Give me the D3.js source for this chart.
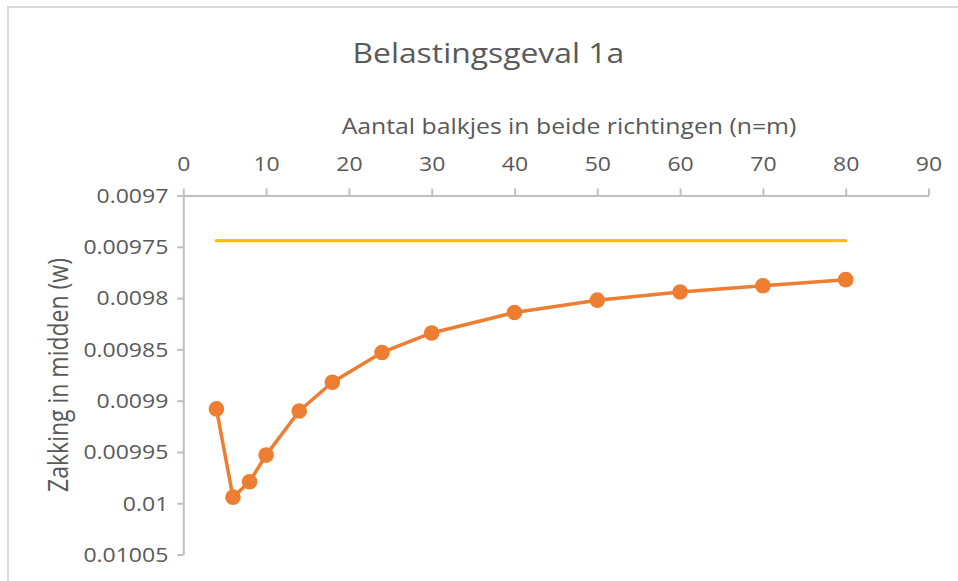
<!DOCTYPE html>
<html>
<head>
<meta charset="utf-8">
<script src="https://cdn.jsdelivr.net/npm/d3@7"></script>
<style>
  html, body { margin: 0; padding: 0; background: #ffffff; }
  svg { display: block; }
  text { font-family: "Open Sans", "Noto Sans", sans-serif; fill: #595959; }
</style>
</head>
<body>
<svg id="chart" width="958" height="581"></svg>
<script>
// Number of beams in both directions (n = m)
const beams = [4, 6, 8, 10, 14, 18, 24, 30, 40, 50, 60, 70, 80];
// Mid-span deflection w from the beam grid model
const deflection = [0.009908, 0.009994, 0.009979, 0.009953, 0.009910, 0.009882,
                    0.009853, 0.009834, 0.009814, 0.009802, 0.009794, 0.009788, 0.009782];
// Reference (plate) deflection, constant over the range
const referenceBeams = [4, 80];
const referenceDeflection = [0.009744, 0.009744];

const xTicks = [0, 10, 20, 30, 40, 50, 60, 70, 80, 90];
const yTicks = [0.0097, 0.00975, 0.0098, 0.00985, 0.0099, 0.00995, 0.01, 0.01005];
const yTickLabels = ["0.0097", "0.00975", "0.0098", "0.00985", "0.0099", "0.00995", "0.01", "0.01005"];

const chartTitle = "Belastingsgeval 1a";
const xTitle = "Aantal balkjes in beide richtingen (n=m)";
const yTitle = "Zakking in midden (w)";

const svg = d3.select("#chart");
const textStretch = 1.18;   // horizontal widening of the label glyphs
const axisColor = "#bfbfbf";

// chart frame
svg.append("rect")
  .attr("x", 8).attr("y", 7)
  .attr("width", 1200).attr("height", 1200)
  .attr("fill", "#ffffff")
  .attr("stroke", "#d9d9d9")
  .attr("stroke-width", 2);

const plot = { left: 183.3, right: 928.5, top: 195.5, bottom: 554.6 };

const x = d3.scaleLinear().domain([0, 90]).range([plot.left, plot.right]);
// value axis runs downward: smallest deflection at the top
const y = d3.scaleLinear().domain([0.0097, 0.01005]).range([plot.top, plot.bottom]);

// horizontal axis along the top
const xAxis = svg.append("g")
  .attr("transform", `translate(0,${plot.top})`)
  .call(d3.axisTop(x).tickValues(xTicks).tickFormat(d3.format("d")).tickSize(7).tickSizeOuter(0));

// vertical axis on the left
const yAxis = svg.append("g")
  .attr("transform", `translate(${plot.left},0)`)
  .call(d3.axisLeft(y).tickValues(yTicks).tickFormat((d, i) => yTickLabels[i]).tickSize(6).tickSizeOuter(0));

[xAxis, yAxis].forEach(ax => {
  ax.select(".domain").attr("stroke", axisColor).attr("stroke-width", 2);
  ax.selectAll(".tick line").attr("stroke", axisColor).attr("stroke-width", 2);
  ax.selectAll(".tick text")
    .attr("font-family", "'Open Sans', 'Noto Sans', sans-serif")
    .attr("font-size", 19.5)
    .attr("fill", "#595959");
});

xAxis.selectAll(".tick text")
  .attr("y", -24.5)
  .attr("dy", 0)
  .attr("transform", `scale(${textStretch},1)`);

yAxis.selectAll(".tick text")
  .attr("x", -15 / textStretch)
  .attr("dy", "0.35em")
  .attr("transform", `scale(${textStretch},1)`);

// titles
svg.append("g")
  .attr("transform", `translate(488.3,63.3) scale(${textStretch},1)`)
  .append("text")
  .attr("text-anchor", "middle")
  .attr("font-size", 27)
  .text(chartTitle);

svg.append("g")
  .attr("transform", `translate(569,134) scale(${textStretch},1)`)
  .append("text")
  .attr("text-anchor", "middle")
  .attr("font-size", 21)
  .text(xTitle);

svg.append("g")
  .attr("transform", `translate(68.3,375) rotate(-90) scale(1,${textStretch})`)
  .append("text")
  .attr("text-anchor", "middle")
  .attr("font-size", 23)
  .text(yTitle);

// reference line
const line = d3.line().x(d => x(d[0])).y(d => y(d[1]));

svg.append("path")
  .datum(d3.zip(referenceBeams, referenceDeflection))
  .attr("d", line)
  .attr("fill", "none")
  .attr("stroke", "#ffc000")
  .attr("stroke-width", 3.4)
  .attr("stroke-linecap", "round");

// model results
const series = d3.zip(beams, deflection);

svg.append("path")
  .datum(series)
  .attr("d", line)
  .attr("fill", "none")
  .attr("stroke", "#ed7d31")
  .attr("stroke-width", 3.5)
  .attr("stroke-linejoin", "round");

svg.append("g")
  .selectAll("circle")
  .data(series)
  .join("circle")
  .attr("cx", d => x(d[0]))
  .attr("cy", d => y(d[1]))
  .attr("r", 7.8)
  .attr("fill", "#ed7d31");
</script>
</body>
</html>
